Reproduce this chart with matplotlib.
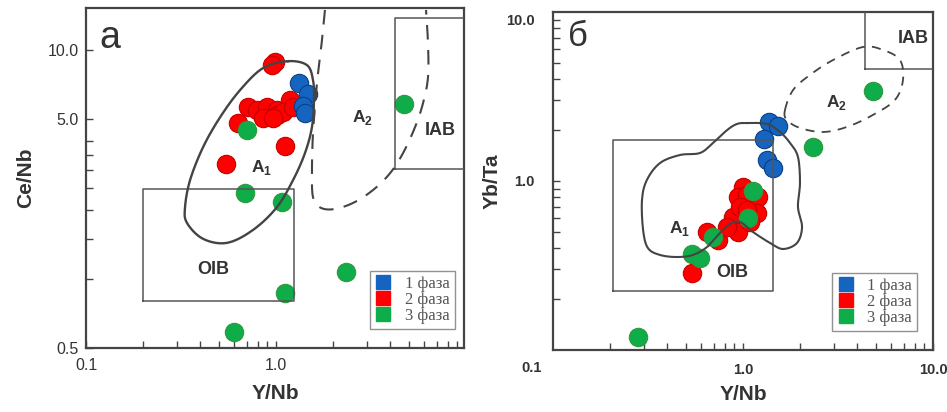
import numpy as np
import matplotlib.pyplot as plt
from matplotlib.lines import Line2D
from matplotlib.ticker import FixedLocator, NullFormatter, FixedFormatter

plt.rcParams['font.family'] = ['Liberation Sans', 'DejaVu Sans']

# ---- panel a: Ce/Nb vs Y/Nb ----
a_ph1_x = [1.32, 1.47, 1.39, 1.42]
a_ph1_y = [7.18, 6.43, 5.70, 5.31]
a_ph2_x = [0.985, 0.953, 0.713, 0.794, 0.897, 0.854, 1.01, 1.01, 1.185, 1.09,
           0.964, 1.23, 0.631, 1.115, 0.546]
a_ph2_y = [8.87, 8.60, 5.64, 5.48, 5.64, 5.05, 5.48, 5.20, 6.05, 5.37,
           5.05, 5.64, 4.81, 3.81, 3.18]
a_ph3_x = [0.704, 0.687, 1.076, 4.72, 2.34, 1.115, 0.601]
a_ph3_y = [4.48, 2.38, 2.17, 5.82, 1.07, 0.87, 0.587]

# field A1 (closed) and A2 (open dashed curve)
a_A1_x = [1.156, 1.456, 1.566, 1.585, 1.546, 1.42, 1.23, 1.01, 0.757, 0.552,
          0.413, 0.340, 0.332, 0.353, 0.413, 0.508, 0.647, 0.854]
a_A1_y = [8.96, 8.61, 7.40, 6.05, 4.61, 3.55, 2.71, 2.06, 1.64, 1.44,
          1.50, 1.76, 2.06, 2.71, 3.77, 5.10, 6.70, 8.36]
a_A2_x = [1.81, 1.746, 1.643, 1.566, 1.546, 1.566, 1.70, 2.0, 2.54, 3.24,
          3.98, 4.66, 5.39, 5.94, 6.31, 6.31, 6.16]
a_A2_y = [15.0, 11.07, 7.18, 4.34, 2.90, 2.28, 2.06, 2.02, 2.15, 2.45,
          2.90, 3.55, 4.61, 5.87, 7.63, 10.7, 15.0]
a_oib = (0.2, 1.24, 0.80, 2.47)
a_iab = (4.23, 12.0, 3.02, 13.9)

# ---- panel b: Yb/Ta vs Y/Nb ----
b_ph1_x = [1.371, 1.528, 1.29, 1.337, 1.438]
b_ph1_y = [2.234, 2.115, 1.773, 1.33, 1.194]
b_ph2_x = [0.539, 0.647, 0.739, 1.0, 0.941, 1.05, 1.2, 0.886, 0.941, 1.185,
           1.088, 0.964, 1.05, 0.824]
b_ph2_y = [0.286, 0.499, 0.448, 0.921, 0.804, 0.826, 0.804, 0.612, 0.499, 0.647,
           0.572, 0.702, 0.674, 0.534]
b_ph3_x = [0.28, 0.539, 0.594, 0.695, 1.063, 1.129, 2.34, 4.83]
b_ph3_y = [0.119, 0.37, 0.35, 0.466, 0.604, 0.873, 1.589, 3.41]

b_A1_x = [1.05, 1.337, 1.566, 1.768, 1.947, 1.995, 1.947, 2.045, 1.924, 1.625,
          1.387, 1.129, 0.964, 0.854, 0.757, 0.647, 0.545, 0.449, 0.366, 0.316,
          0.298, 0.294, 0.312, 0.366, 0.466, 0.594, 0.695, 0.824, 0.93]
b_A1_y = [2.203, 2.175, 1.95, 1.679, 1.387, 0.973, 0.702, 0.534, 0.43, 0.396,
          0.43, 0.499, 0.572, 0.557, 0.493, 0.407, 0.365, 0.355, 0.365, 0.401,
          0.513, 0.772, 1.014, 1.278, 1.425, 1.465, 1.679, 2.0, 2.175]
b_A2_x = [1.663, 1.833, 2.25, 2.98, 4.28, 5.46, 6.7, 6.95, 6.31, 4.83,
          3.53, 2.64, 1.995, 1.70]
b_A2_y = [2.63, 3.45, 4.24, 5.2, 6.21, 5.96, 5.2, 3.96, 3.02, 2.46,
          2.09, 1.95, 2.06, 2.3]
b_oib = (0.207, 1.438, 0.223, 1.75)
b_iab = (4.39, 12.0, 4.6, 12.0)

phase_labels = ['1 фаза', '2 фаза', '3 фаза']
face = ['#1565c0', '#ff0000', '#0fac4a']
edge = ['#0b3f85', '#c40000', '#2f9a3e']
line_col = '#444444'


def catmull(pts, n, closed):
    """Catmull-Rom curve through points given in log10 space."""
    P = np.asarray(pts)
    m = len(P)
    if closed:
        idx = lambda k: P[k % m]
        segs = m
    else:
        P = np.vstack([P[0], P, P[-1]])
        idx = lambda k: P[k + 1]
        segs = m - 1
    t = np.linspace(0, 1, n, endpoint=False)[:, None]
    out = []
    for i in range(segs):
        p0, p1, p2, p3 = idx(i - 1), idx(i), idx(i + 1), idx(i + 2)
        out.append(0.5 * (2 * p1 + (-p0 + p2) * t + (2 * p0 - 5 * p1 + 4 * p2 - p3) * t ** 2
                          + (-p0 + 3 * p1 - 3 * p2 + p3) * t ** 3))
    out = np.vstack(out)
    out = np.vstack([out, out[0] if closed else P[-1]])
    return out


def smooth(xs, ys, closed=True, n=14):
    c = catmull(np.column_stack([np.log10(xs), np.log10(ys)]), n, closed)
    return 10 ** c[:, 0], 10 ** c[:, 1]


def box(ax, b):
    x0, x1, y0, y1 = b
    ax.plot([x0, x1, x1, x0, x0], [y0, y0, y1, y1, y0], color='#555555', lw=1.1, zorder=4)


def points(ax, xs_list, ys_list):
    for k in (1, 0, 2):
        ax.scatter(xs_list[k], ys_list[k], s=175, c=face[k], edgecolors=edge[k],
                   linewidths=0.8, zorder=3)


def legend(ax, anchor):
    handles = [Line2D([], [], ls='none', marker='s', markersize=10,
                      markerfacecolor=face[k], markeredgecolor=face[k]) for k in range(3)]
    lg = ax.legend(handles, phase_labels, loc='lower left', bbox_to_anchor=anchor,
                   frameon=True, fancybox=False, borderpad=0.3, labelspacing=0.0,
                   handlelength=1.0, handletextpad=0.8, borderaxespad=0,
                   prop={'family': 'Liberation Serif', 'size': 12})
    lg.get_frame().set_edgecolor('#777777')
    lg.get_frame().set_linewidth(1.0)
    for t in lg.get_texts():
        t.set_color('#555555')


def frame(ax):
    for s in ax.spines.values():
        s.set_color('#444444')
        s.set_linewidth(1.6)
    ax.tick_params(which='both', direction='in', color='#444444', width=1.0)
    ax.tick_params(which='major', length=5)
    ax.tick_params(which='minor', length=5)


fig = plt.figure(figsize=(9.47, 4.12), dpi=100)

# ---------- panel a ----------
ax1 = fig.add_axes([86 / 947, 64 / 412, 378 / 947, 340 / 412])
ax1.set_xscale('log')
ax1.set_yscale('log')
ax1.set_xlim(0.1, 9.76)
ax1.set_ylim(0.5, 15.3)
points(ax1, [a_ph1_x, a_ph2_x, a_ph3_x], [a_ph1_y, a_ph2_y, a_ph3_y])
sx, sy = smooth(a_A1_x, a_A1_y, closed=True)
ax1.plot(sx, sy, color=line_col, lw=1.7, zorder=5)
sx, sy = smooth(a_A2_x, a_A2_y, closed=False)
ax1.plot(sx, sy, color=line_col, lw=1.5, ls=(0, (7, 5)), zorder=5)
box(ax1, a_oib)
box(ax1, a_iab)
frame(ax1)
ax1.xaxis.set_major_locator(FixedLocator([0.1, 1, 10]))
ax1.xaxis.set_major_formatter(FixedFormatter(['0.1', '1.0', '10.0']))
ax1.xaxis.set_minor_locator(FixedLocator([0.2, 0.3, 0.4, 0.5, 0.6, 0.7, 0.8, 0.9,
                                          2, 3, 4, 5, 6, 7, 8, 9]))
ax1.xaxis.set_minor_formatter(NullFormatter())
ax1.yaxis.set_major_locator(FixedLocator([0.5, 5, 10]))
ax1.yaxis.set_major_formatter(FixedFormatter(['0.5', '5.0', '10.0']))
ax1.yaxis.set_minor_locator(FixedLocator([1, 1.5, 2, 2.5, 3, 3.5, 4]))
ax1.yaxis.set_minor_formatter(NullFormatter())
ax1.tick_params(axis='x', which='major', pad=7, labelsize=11.5, labelcolor='#333333')
ax1.tick_params(axis='y', which='major', pad=5, labelsize=11.5, labelcolor='#333333')
ax1.set_xlabel('Y/Nb', fontsize=15, fontweight='bold', color='#333333', labelpad=8)
ax1.set_ylabel('Ce/Nb', fontsize=15, fontweight='bold', color='#333333', labelpad=9)
ax1.text(0.035, 0.965, 'а', transform=ax1.transAxes, fontsize=27, color='#333333',
         ha='left', va='top')
ax1.text(0.844, 3.08, r'A$_\mathregular{1}$', fontsize=12.5, fontweight='bold',
         color='#333333', ha='center', va='center', zorder=6)
ax1.text(2.84, 5.1, r'A$_\mathregular{2}$', fontsize=12.5, fontweight='bold',
         color='#333333', ha='center', va='center', zorder=6)
ax1.text(7.3, 4.48, 'IAB', fontsize=13, fontweight='bold', color='#333333',
         ha='center', va='center', zorder=6)
ax1.text(0.466, 1.10, 'OIB', fontsize=13, fontweight='bold', color='#333333',
         ha='center', va='center', zorder=6)
legend(ax1, (0.751, 0.056))

# ---------- panel b ----------
ax2 = fig.add_axes([553 / 947, 62 / 412, 380 / 947, 338 / 412])
ax2.set_xscale('log')
ax2.set_yscale('log')
ax2.set_xlim(0.1, 10)
ax2.set_ylim(0.1, 10)
points(ax2, [b_ph1_x, b_ph2_x, b_ph3_x], [b_ph1_y, b_ph2_y, b_ph3_y])
sx, sy = smooth(b_A1_x, b_A1_y, closed=True, n=8)
ax2.plot(sx, sy, color=line_col, lw=1.5, zorder=5)
sx, sy = smooth(b_A2_x, b_A2_y, closed=True)
ax2.plot(sx, sy, color=line_col, lw=1.3, ls=(0, (5, 4)), zorder=5)
box(ax2, b_oib)
box(ax2, b_iab)
frame(ax2)
ax2.xaxis.set_major_locator(FixedLocator([1, 10]))
ax2.xaxis.set_major_formatter(FixedFormatter(['1.0', '10.0']))
ax2.xaxis.set_minor_locator(FixedLocator([0.2, 0.3, 0.4, 0.5, 0.6, 0.7, 0.8, 0.9,
                                          2, 3, 4, 5, 6, 7, 8, 9]))
ax2.xaxis.set_minor_formatter(NullFormatter())
ax2.yaxis.set_major_locator(FixedLocator([1]))
ax2.yaxis.set_major_formatter(FixedFormatter(['1.0']))
ax2.yaxis.set_minor_locator(FixedLocator([0.2, 0.3, 0.4, 0.5, 0.6, 0.7, 0.8, 0.9,
                                          2, 3, 4, 5, 6, 7, 8, 9]))
ax2.yaxis.set_minor_formatter(NullFormatter())
ax2.tick_params(axis='x', which='major', pad=9, labelsize=10.5, labelcolor='#333333')
ax2.tick_params(axis='y', which='major', pad=13, labelsize=10.5, labelcolor='#333333')
for lab in ax2.get_xticklabels() + ax2.get_yticklabels():
    lab.set_fontweight('bold')
ax2.annotate('10.0', xy=(0, 1), xycoords='axes fraction', xytext=(-13, -6.5),
             textcoords='offset points', ha='right', va='center', fontsize=10.5,
             fontweight='bold', color='#333333', annotation_clip=False)
ax2.annotate('0.1', xy=(0, 0), xycoords='axes fraction', xytext=(-8, -8),
             textcoords='offset points', ha='right', va='top', fontsize=10.5,
             fontweight='bold', color='#333333', annotation_clip=False)
ax2.set_xlabel('Y/Nb', fontsize=15, fontweight='bold', color='#333333', labelpad=6)
ax2.set_ylabel('Yb/Ta', fontsize=15, fontweight='bold', color='#333333', labelpad=9)
ax2.text(0.04, 0.975, 'б', transform=ax2.transAxes, fontsize=25, color='#333333',
         ha='left', va='top')
ax2.text(0.466, 0.527, r'A$_\mathregular{1}$', fontsize=12.5, fontweight='bold',
         color='#333333', ha='center', va='center', zorder=6)
ax2.text(3.12, 2.9, r'A$_\mathregular{2}$', fontsize=12.5, fontweight='bold',
         color='#333333', ha='center', va='center', zorder=6)
ax2.text(7.85, 7.0, 'IAB', fontsize=13, fontweight='bold', color='#333333',
         ha='center', va='center', zorder=6)
ax2.text(0.875, 0.286, 'OIB', fontsize=13, fontweight='bold', color='#333333',
         ha='center', va='center', zorder=6)
legend(ax2, (0.735, 0.056))

fig.savefig('out.png', dpi=100)
